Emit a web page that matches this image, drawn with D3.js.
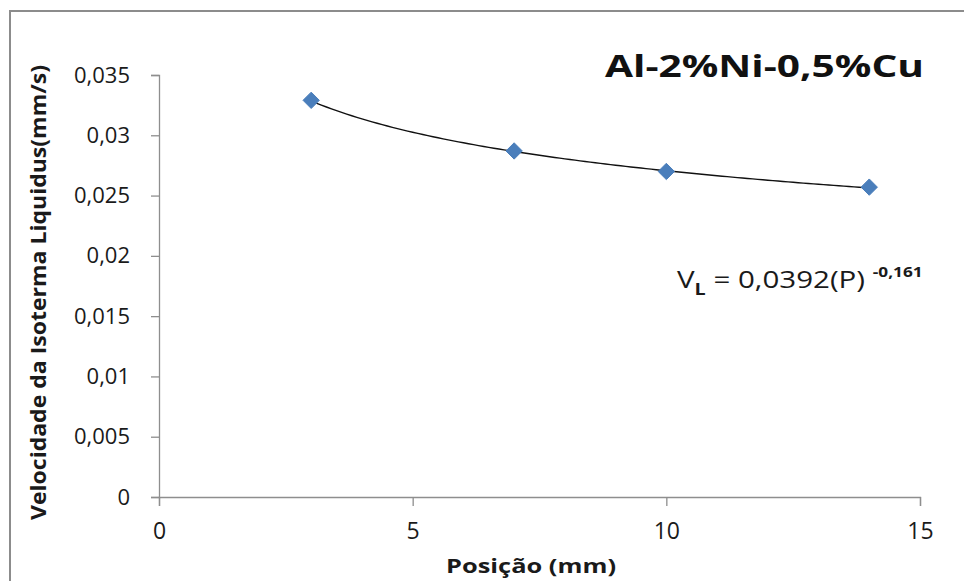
<!DOCTYPE html>
<html>
<head>
<meta charset="utf-8">
<script src="https://cdn.jsdelivr.net/npm/d3@7"></script>
<style>
  html, body { margin: 0; padding: 0; background: #fff; }
  svg { display: block; }
  text { font-family: "Open Sans", "Noto Sans", sans-serif; }
</style>
</head>
<body>
<svg id="chart" width="964" height="581"></svg>
<script>
// ---- data ----
const positions = [3, 7, 10, 14];                    // Posição (mm)
const velocities = [0.0329, 0.0287, 0.0270, 0.0257]; // V_L (mm/s)
const xTicks = [0, 5, 10, 15];
const yTicks = [0, 0.005, 0.01, 0.015, 0.02, 0.025, 0.03, 0.035];
const fitCoef = 0.0392;   // trendline V = a * P^b
const fitExp = -0.161;
const fitRange = [3, 14];
const chartTitle = "Al-2%Ni-0,5%Cu";
const xTitle = "Posição (mm)";
const yTitle = "Velocidade da Isoterma Liquidus(mm/s)";

// ---- layout ----
const svg = d3.select("#chart");
const x = d3.scaleLinear().domain([0, 15]).range([159, 920]);
const y = d3.scaleLinear().domain([0, 0.035]).range([497, 75]);
const fmt = d => d3.format("")(d).replace(".", ",");

// outer frame (left and top visible)
svg.append("path")
  .attr("d", "M10,581 V11 H964")
  .attr("fill", "none").attr("stroke", "#8c8c8c").attr("stroke-width", 2);

// axes
const axisColor = "#8e8e8e";
const yAxis = svg.append("g").attr("transform", `translate(${x(0)},0)`)
  .call(d3.axisLeft(y).tickValues(yTicks).tickSize(8).tickPadding(21).tickFormat(fmt));
const xAxis = svg.append("g").attr("transform", `translate(0,${y(0)})`)
  .call(d3.axisBottom(x).tickValues(xTicks).tickSize(9).tickPadding(17).tickFormat(fmt));
[yAxis, xAxis].forEach(g => {
  g.select(".domain").attr("stroke", axisColor).attr("stroke-width", 1.3);
  g.selectAll(".tick line").attr("stroke", axisColor).attr("stroke-width", 1.3);
  g.selectAll(".tick text").attr("fill", "#1a1a1a")
    .style("font-family", "'Open Sans', sans-serif").style("font-size", "22px");
});
xAxis.selectAll(".tick text").style("font-size", "23px");

// trendline
const curvePts = d3.range(fitRange[0], fitRange[1] + 0.001, 0.1)
  .map(p => [p, fitCoef * Math.pow(p, fitExp)]);
svg.append("path")
  .datum(curvePts)
  .attr("d", d3.line().x(d => x(d[0])).y(d => y(d[1])))
  .attr("fill", "none").attr("stroke", "#111").attr("stroke-width", 1.4);

// markers
svg.selectAll("path.pt").data(positions).join("path")
  .attr("class", "pt")
  .attr("transform", (d, i) => `translate(${x(d)},${y(velocities[i])})`)
  .attr("d", d3.symbol().type(d3.symbolDiamond2).size(170))
  .attr("fill", "#4a7ebb").attr("stroke", "#4a7ebb").attr("stroke-width", 1);

// title
svg.append("text")
  .attr("x", 605).attr("y", 77)
  .attr("textLength", 319).attr("lengthAdjust", "spacingAndGlyphs")
  .style("font-size", "31px").style("font-weight", "bold").attr("fill", "#111")
  .text(chartTitle);

// equation
const eq = svg.append("text").attr("transform", "translate(677,288) scale(1.23,1)")
  .style("font-size", "24px").attr("fill", "#1a1a1a");
eq.append("tspan").text("V");
eq.append("tspan").attr("dy", 7).style("font-size", "16px").style("font-weight", "bold").text("L");
eq.append("tspan").attr("dy", -7).text(" = 0,0392(P) ");
eq.append("tspan").attr("dy", -11).style("font-size", "14px").style("font-weight", "bold").text("-0,161");

// axis titles
svg.append("text")
  .attr("x", 446).attr("y", 573)
  .attr("textLength", 170).attr("lengthAdjust", "spacingAndGlyphs")
  .style("font-size", "20px").style("font-weight", "bold").attr("fill", "#1a1a1a")
  .text(xTitle);
svg.append("text")
  .attr("transform", "translate(46,520) rotate(-90)")
  .attr("textLength", 455).attr("lengthAdjust", "spacingAndGlyphs")
  .style("font-size", "21px").style("font-weight", "bold").attr("fill", "#1a1a1a")
  .text(yTitle);
</script>
</body>
</html>
